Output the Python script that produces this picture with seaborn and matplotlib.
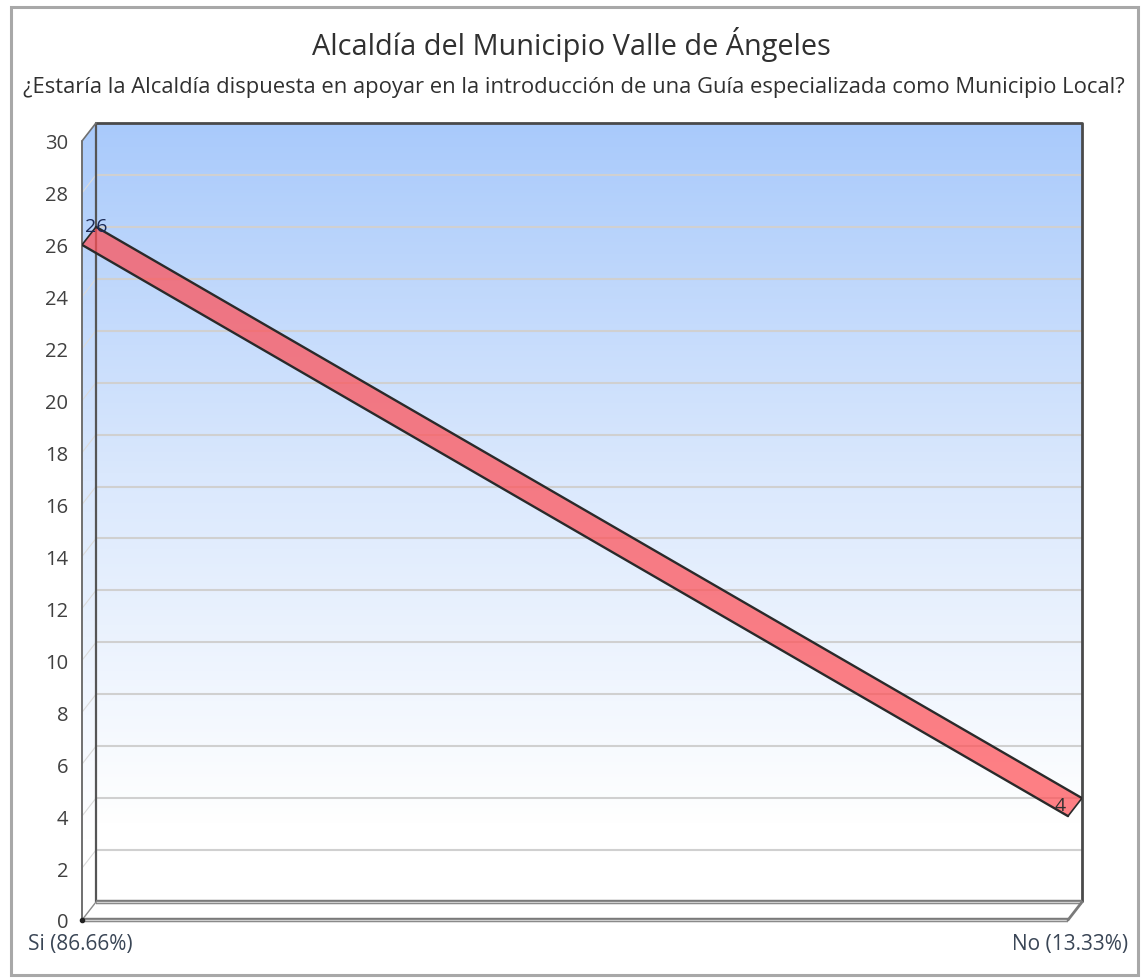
import numpy as np
import matplotlib
matplotlib.use('Agg')
import matplotlib.pyplot as plt
import seaborn as sns
from matplotlib.patches import Polygon, Rectangle
from matplotlib.colors import LinearSegmentedColormap

sns.set_theme(style='white')
plt.rcParams['font.family'] = ['Open Sans', 'DejaVu Sans']

# data
title = 'Alcaldía del Municipio Valle de Ángeles'
subtitle = '¿Estaría la Alcaldía dispuesta en apoyar en la introducción de una Guía especializada como Municipio Local?'
categories = ['Si (86.66%)', 'No (13.33%)']
counts = [26, 4]
y_ticks = list(range(0, 31, 2))

W, H = 1141, 979
fig = plt.figure(figsize=(W / 100, H / 100), dpi=100)

# outer frame
fig.patches.append(Rectangle((10.5 / W, 3 / H), 1127 / W, 968 / H, transform=fig.transFigure,
                             fill=False, edgecolor='#a8a8a8', linewidth=2.2))

fig.text(571 / W, 1 - 44 / H, title, ha='center', va='center', fontsize=20.8, color='#303030')
fig.text(574 / W, 1 - 87 / H, subtitle, ha='center', va='center', fontsize=15.8, color='#303030')

# front plane: x 82..1068 px, y 921 (0) .. 142 (30); depth offset 14 px right, 18 px up
front_left, front_right, front_bottom = 82, 1068, 921
px_per_unit = (921 - 142) / 30
depth_x, depth_y = 14, 18
DX = depth_x / (front_right - front_left)
DY = depth_y / px_per_unit
ymax = 30

ax = fig.add_axes([front_left / W, (H - front_bottom) / H,
                   (front_right - front_left + depth_x) / W,
                   (ymax * px_per_unit + depth_y) / H])
ax.set_xlim(0, 1 + DX)
ax.set_ylim(0, ymax + DY)
ax.patch.set_alpha(0)
for s in ax.spines.values():
    s.set_visible(False)

# gradient walls
grad = LinearSegmentedColormap.from_list('wall', [(0, '#ffffff'), (0.1, '#ffffff'),
                                                  (0.55, '#dae8fd'), (1, '#a9cafb')])
img = np.linspace(0, 1, 256).reshape(-1, 1)
back = ax.imshow(img, cmap=grad, origin='lower', aspect='auto',
                 extent=[DX, 1 + DX, DY, ymax + DY], zorder=0)
side = ax.imshow(img, cmap=grad, origin='lower', aspect='auto',
                 extent=[0, DX, 0, ymax + DY], zorder=0)
side_poly = Polygon([(0, 0), (DX, DY), (DX, ymax + DY), (0, ymax)], closed=True,
                    facecolor='none', edgecolor='none', transform=ax.transData)
ax.add_patch(side_poly)
side.set_clip_path(side_poly)

# floor
ax.add_patch(Polygon([(0, 0), (1, 0), (1 + DX, DY), (DX, DY)], closed=True,
                     facecolor='white', edgecolor='none', zorder=1))

# grid lines
for v in y_ticks[1:-1]:
    ax.plot([DX, 1 + DX], [v + DY, v + DY], color='#d0d0d0', lw=1.5, zorder=1)
    ax.plot([0, DX], [v, v + DY], color='#dadada', lw=0.8, zorder=1)

# box edges
ax.plot([DX, 1 + DX, 1 + DX], [ymax + DY, ymax + DY, DY], color='#4a4a4a', lw=2, zorder=2,
        clip_on=False, solid_capstyle='butt')
ax.plot([DX, DX], [DY, ymax + DY], color='#555555', lw=1.6, zorder=2, clip_on=False)
ax.plot([0, 0], [0, ymax], color='#707070', lw=1.4, zorder=2, clip_on=False)
ax.plot([0, DX], [ymax, ymax + DY], color='#707070', lw=1.2, zorder=2, clip_on=False)
for xs, ys in [([0, 1], [0, 0]), ([DX, 1 + DX], [DY, DY])]:
    ax.plot(xs, ys, color='#7a7a7a', lw=3.2, zorder=2, clip_on=False, solid_capstyle='butt')
    ax.plot(xs, ys, color='#cfcfcf', lw=1, zorder=2, clip_on=False, solid_capstyle='butt')
ax.plot([1, 1 + DX], [0, DY], color='#7a7a7a', lw=2, zorder=2, clip_on=False)
ax.plot([0, DX], [0, DY], color='#8a8a8a', lw=1, zorder=2, clip_on=False)
ax.plot([0], [0], 'o', color='#222222', ms=3, zorder=3, clip_on=False)

# ribbon line
xpos = np.arange(len(categories))
back_x = xpos + DX
back_y = np.array(counts) + DY
ax.fill(np.r_[xpos, back_x[::-1]], np.r_[counts, back_y[::-1]],
        facecolor='#ff4f55', alpha=0.72, edgecolor='none', zorder=4)
sns.lineplot(x=xpos, y=counts, ax=ax, color='#2a2a2a', lw=1.7, zorder=5)
sns.lineplot(x=back_x, y=back_y, ax=ax, color='#2a2a2a', lw=1.7, zorder=5)
for x0, y0 in zip(xpos, counts):
    ax.plot([x0, x0 + DX], [y0, y0 + DY], color='#2a2a2a', lw=1.2, zorder=5)

# value labels
ax.text(back_x[0], back_y[0] + 0.05, str(counts[0]), ha='center', va='center',
        fontsize=14, color='#1c2a55', zorder=6)
ax.text(back_x[1] - 0.022, back_y[1] - 0.25, str(counts[1]), ha='center', va='center',
        fontsize=14, color='#303030', zorder=6)

# axes ticks
ax.set_yticks(y_ticks)
ax.set_yticklabels([str(t) for t in y_ticks], fontsize=14.5, color='#404040')
ax.tick_params(axis='y', length=0, pad=10)
ax.set_xticks([])

fig.text(28 / W, 1 - 945 / H, categories[0], ha='left', va='center', fontsize=15, color='#3a4656')
fig.text(1128 / W, 1 - 945 / H, categories[1], ha='right', va='center', fontsize=15, color='#3a4656')

fig.savefig('out.png', dpi=100)
